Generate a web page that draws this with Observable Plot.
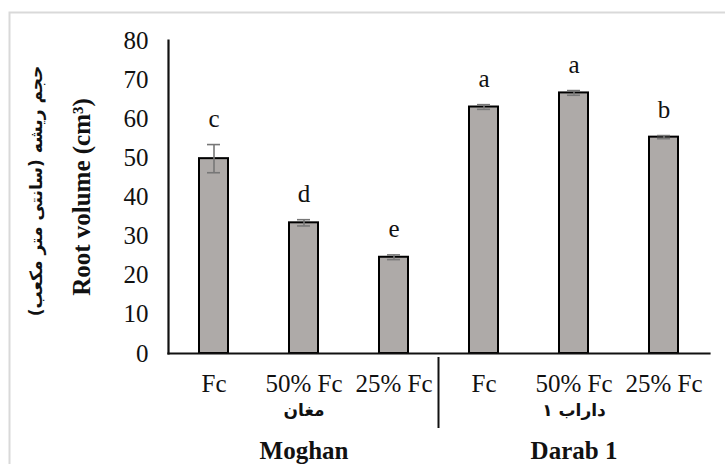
<!DOCTYPE html>
<html>
<head>
<meta charset="utf-8">
<script src="https://cdn.jsdelivr.net/npm/d3@7"></script>
<script src="https://cdn.jsdelivr.net/npm/@observablehq/plot@0.6"></script>
<style>
  html, body { margin: 0; padding: 0; background: #fff; }
  #chart { width: 725px; height: 464px; overflow: hidden; }
</style>
</head>
<body>
<div id="chart"></div>
<script>
// ---- data ----
const keys = ["M-Fc", "M-50", "M-25", "D-Fc", "D-50", "D-25"];
const tickLabels = ["Fc", "50% Fc", "25% Fc", "Fc", "50% Fc", "25% Fc"];
const values = [49.8, 33.4, 24.6, 63.0, 66.6, 55.3];
const errors = [3.6, 0.8, 0.6, 0.6, 0.6, 0.4];
const letters = ["c", "d", "e", "a", "a", "b"];
const yTicks = [0, 10, 20, 30, 40, 50, 60, 70, 80];
const groupKeys = ["M-50", "D-50"];
const groupFa = ["مغان", "داراب ۱"];
const groupEn = ["Moghan", "Darab 1"];
const yTitleEn = "Root volume (cm³)";
const yTitleFa = "حجم ریشه (سانتی متر مکعب)";

const data = keys.map((k, i) => ({key: k, value: values[i], err: errors[i], letter: letters[i]}));
const groups = groupKeys.map((k, i) => ({key: k, fa: groupFa[i], en: groupEn[i]}));
const labelOf = Object.fromEntries(keys.map((k, i) => [k, tickLabels[i]]));

const serif = "Liberation Serif";
const arabic = "DejaVu Sans";
const errColor = "#777";

const plot = Plot.plot({
  width: 725,
  height: 464,
  marginLeft: 168,
  marginRight: 16,
  marginTop: 40,
  marginBottom: 111,
  style: {fontFamily: serif, background: "#fff", color: "#111", overflow: "visible"},
  x: {domain: keys, paddingInner: 0.68, paddingOuter: 0.34, axis: null},
  y: {domain: [0, 80], axis: null},
  marks: [
    Plot.barY(data, {x: "key", y: "value", fill: "#aeaaa8", stroke: "#000", strokeWidth: 2}),
    Plot.ruleX(data, {x: "key", y1: d => d.value - d.err, y2: d => d.value + d.err, stroke: errColor, strokeWidth: 1.6}),
    Plot.tickY(data, {x: "key", y: d => d.value + d.err, stroke: errColor, strokeWidth: 1.6, inset: 8}),
    Plot.tickY(data, {x: "key", y: d => d.value - d.err, stroke: errColor, strokeWidth: 1.6, inset: 8}),
    Plot.text(data, {x: "key", y: d => d.value + d.err, text: "letter", lineAnchor: "bottom", dy: -18, fontSize: 25, fontFamily: serif, fill: "#111"}),
    Plot.axisY({ticks: yTicks, tickSize: 0, tickPadding: 20, fontSize: 25, fontFamily: serif, label: null}),
    Plot.axisX({tickSize: 0, tickPadding: 21, fontSize: 25, fontFamily: serif, label: null, tickFormat: k => labelOf[k]}),
    Plot.frame({anchor: "left", stroke: "#111", strokeWidth: 2.2, strokeDasharray: "2.5,1"}),
    Plot.frame({anchor: "bottom", stroke: "#111", strokeWidth: 2.2, strokeDasharray: "2.5,1"}),
    Plot.text(groups, {x: "key", text: "fa", frameAnchor: "bottom", dy: 62, fontSize: 17, fontWeight: "bold", fontFamily: arabic, fill: "#111"}),
    Plot.text(groups, {x: "key", text: "en", frameAnchor: "bottom", dy: 105, fontSize: 25, fontWeight: "bold", fontFamily: serif, fill: "#111"}),
    Plot.text([yTitleEn], {text: d => d, frameAnchor: "left", textAnchor: "middle", rotate: -90, dx: -87, fontSize: 25, fontWeight: "bold", fontFamily: serif, fill: "#111"}),
    Plot.text([yTitleFa], {text: d => d, frameAnchor: "left", textAnchor: "middle", rotate: -90, dx: -132, dy: -6, fontSize: 17, fontWeight: "bold", fontFamily: arabic, fill: "#111"})
  ]
});

// group separator line and outer border, positioned from Plot's x scale
const xs = plot.scale("x");
const xMid = (xs.apply(keys[2]) + xs.bandwidth + xs.apply(keys[3])) / 2;
const svg = d3.select(plot);
svg.insert("rect", ":first-child")
  .attr("x", 9.5).attr("y", 12.5).attr("width", 730).attr("height", 520)
  .attr("fill", "none").attr("stroke", "#d9d9d9").attr("stroke-width", 2);
svg.append("line")
  .attr("x1", xMid).attr("x2", xMid).attr("y1", 357).attr("y2", 428)
  .attr("stroke", "#111").attr("stroke-width", 2);

document.getElementById("chart").appendChild(plot);
</script>
</body>
</html>
